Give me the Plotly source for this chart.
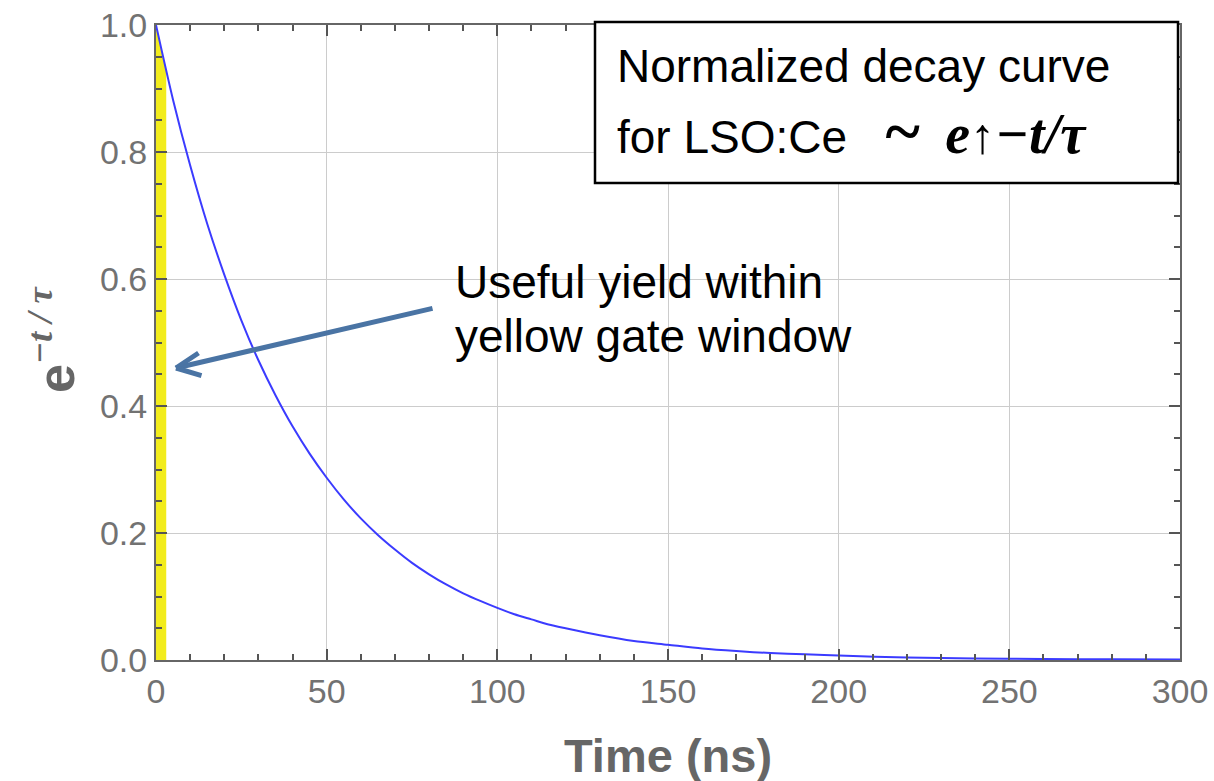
import plotly.graph_objects as go

# Normalized LSO:Ce scintillation decay, read at sample times (ns)
time_ns = [0, 5, 10, 15, 20, 25, 30, 35, 40, 45, 50, 55, 60, 65, 70, 75, 80,
           85, 90, 95, 100, 105, 110, 115, 120, 130, 140, 150, 160, 170, 180,
           190, 200, 220, 240, 260, 280, 300]
intensity = [1.0, 0.882, 0.779, 0.687, 0.607, 0.535, 0.472, 0.417, 0.368,
             0.325, 0.287, 0.253, 0.223, 0.197, 0.174, 0.153, 0.135, 0.119,
             0.105, 0.093, 0.082, 0.072, 0.064, 0.056, 0.05, 0.039, 0.03,
             0.024, 0.018, 0.014, 0.011, 0.009, 0.007, 0.004, 0.0025, 0.0015,
             0.001, 0.0006]

# Gate window (ns) and the curve height across it
gate_t = [0, 3]
gate_y = [1.0, 0.93]

x_ticks = [0, 50, 100, 150, 200, 250, 300]
y_ticks = [0.0, 0.2, 0.4, 0.6, 0.8, 1.0]
y_tick_text = ["0.0", "0.2", "0.4", "0.6", "0.8", "1.0"]

W, H = 1214, 781
L, R, T, B = 156, 34, 25, 121
PW, PH = W - L - R, H - T - B


def px_x(p):
    return (p - L) / PW


def px_y(p):
    return (H - B - p) / PH


AXIS_GREY = "#666666"
TICK_GREY = "#727272"
FONT = "Liberation Sans, Arial, sans-serif"
SERIF = "Liberation Serif, Times New Roman, serif"

fig = go.Figure()

fig.add_trace(go.Scatter(
    x=gate_t, y=gate_y, mode="lines", fill="tozeroy",
    fillcolor="#F2EC1C", line=dict(width=0, color="#F2EC1C"),
    hoverinfo="skip", showlegend=False,
))

fig.add_trace(go.Scatter(
    x=time_ns, y=intensity, mode="lines",
    line=dict(color="#3b3bff", width=2, shape="spline", smoothing=0.8),
    showlegend=False,
))

axis_common = dict(
    showline=True, linecolor=AXIS_GREY, linewidth=2, mirror="allticks",
    ticks="inside", ticklen=11, tickwidth=2, tickcolor="#555555",
    showgrid=True, gridcolor="#cccccc", gridwidth=1, zeroline=False,
    tickfont=dict(family=FONT, size=34, color=TICK_GREY),
)

fig.update_xaxes(
    range=[0, 300], tickvals=x_ticks,
    minor=dict(dtick=10, tick0=0, ticks="inside", ticklen=6, tickwidth=1.5,
               tickcolor="#555555", showgrid=False),
    **axis_common,
)
fig.update_yaxes(
    range=[0, 1], tickvals=y_ticks, ticktext=y_tick_text,
    minor=dict(dtick=0.05, tick0=0, ticks="inside", ticklen=6, tickwidth=1.5,
               tickcolor="#555555", showgrid=False),
    **axis_common,
)

annotations = []

# Axis titles
annotations.append(dict(
    text="<b>Time (ns)</b>", xref="paper", yref="paper",
    x=px_x((L + W - R) / 2), y=px_y(755), xanchor="center", yanchor="middle",
    showarrow=False, font=dict(family=FONT, size=47, color=AXIS_GREY),
))
annotations.append(dict(
    text=("<b>e<sup><span style='font-family:" + SERIF + "'><i>−t / τ</i></span></sup></b>"),
    xref="paper", yref="paper", x=px_x(52), y=px_y(340),
    xanchor="center", yanchor="middle", textangle=-90,
    showarrow=False, font=dict(family=FONT, size=52, color=AXIS_GREY),
))

# Text box content
annotations.append(dict(
    text="Normalized decay curve", xref="paper", yref="paper",
    x=px_x(615), y=px_y(66), xanchor="left", yanchor="middle",
    showarrow=False, font=dict(family=FONT, size=46, color="black"),
))
annotations.append(dict(
    text=("for LSO:Ce   <span style='font-family:" + SERIF + ";font-size:66px'><b>~</b></span>  "
          "<span style='font-family:" + SERIF + ";font-size:56px'><b><i>e</i></b>"
          "<span style='font-size:50px'>↑</span><b><i>−t/τ</i></b></span>"),
    xref="paper", yref="paper",
    x=px_x(615), y=px_y(130), xanchor="left", yanchor="middle",
    showarrow=False, font=dict(family=FONT, size=46, color="black"),
))

# Callout text
annotations.append(dict(
    text="Useful yield within", xref="paper", yref="paper",
    x=px_x(453), y=px_y(282), xanchor="left", yanchor="middle",
    showarrow=False, font=dict(family=FONT, size=46, color="black"),
))
annotations.append(dict(
    text="yellow gate window", xref="paper", yref="paper",
    x=px_x(453), y=px_y(336), xanchor="left", yanchor="middle",
    showarrow=False, font=dict(family=FONT, size=46, color="black"),
))

# Callout arrow: shaft plus open chevron head
ARROW = "#4a74a4"
tip_x, tip_y = px_x(176), px_y(368)
for ax, ay in [(258, -60), (24, -16), (27, 8)]:
    annotations.append(dict(
        x=tip_x, y=tip_y, xref="paper", yref="paper",
        ax=ax, ay=ay, axref="pixel", ayref="pixel",
        text="", showarrow=True, arrowhead=0, arrowwidth=5,
        arrowcolor=ARROW, standoff=0, startstandoff=0,
    ))

fig.update_layout(
    width=W, height=H,
    margin=dict(l=L, r=R, t=T, b=B, autoexpand=False),
    paper_bgcolor="white", plot_bgcolor="white",
    annotations=annotations,
    shapes=[dict(
        type="rect", xref="paper", yref="paper",
        x0=px_x(595), x1=px_x(1178), y0=px_y(183), y1=px_y(22),
        line=dict(color="black", width=2.5), fillcolor="white", layer="above",
    )],
    showlegend=False,
)

fig.write_html("out.html")
